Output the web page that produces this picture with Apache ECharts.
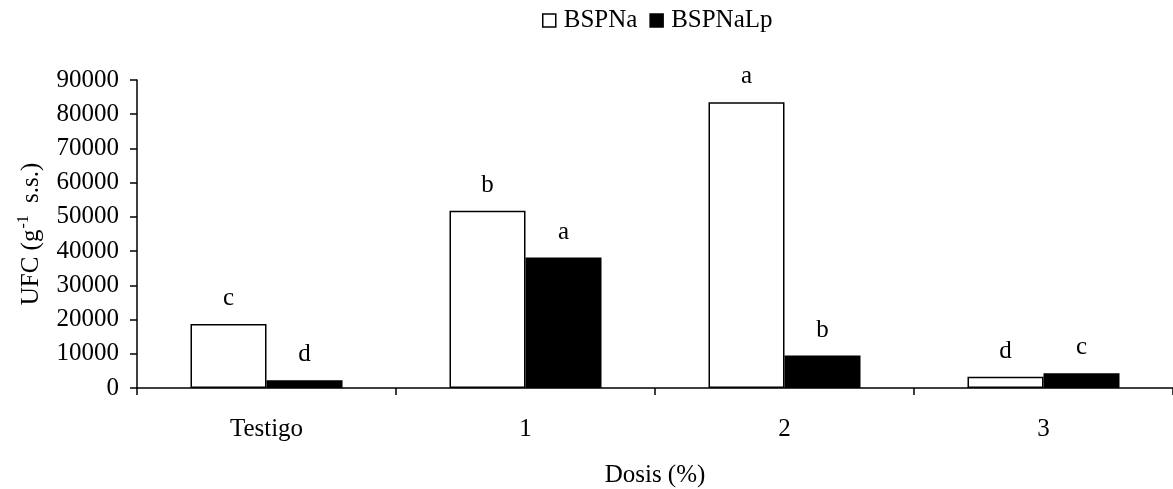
<!DOCTYPE html>
<html>
<head>
<meta charset="utf-8">
<script src="https://cdn.jsdelivr.net/npm/echarts@6/dist/echarts.min.js"></script>
<style>
html,body{margin:0;padding:0;background:#fff;}
#chart{width:1173px;height:489px;}
</style>
</head>
<body>
<div id="chart"></div>
<script>
var categories = ['Testigo', '1', '2', '3'];
var seriesNames = ['BSPNa', 'BSPNaLp'];
var bspna = [18700, 51800, 83500, 3300];
var bspnaLp = [2300, 38100, 9500, 4300];
var lettersBspna = ['c', 'b', 'a', 'd'];
var lettersBspnaLp = ['d', 'a', 'b', 'c'];
var yTicks = { min: 0, max: 90000, interval: 10000 };

var FONT = '"Liberation Serif", "Times New Roman", serif';
var FS = 25;

var chart = echarts.init(document.getElementById('chart'), null, { renderer: 'canvas' });

function makeSeries(name, values, letters, fill) {
  return {
    name: name,
    type: 'bar',
    data: values,
    barWidth: 76,
    barGap: '0%',
    itemStyle: { color: fill, borderColor: '#000', borderWidth: 1.5 },
    emphasis: { disabled: true },
    label: {
      show: true,
      position: 'top',
      distance: 13,
      fontFamily: FONT,
      fontSize: FS,
      color: '#000',
      formatter: function (p) { return letters[p.dataIndex]; }
    }
  };
}

chart.setOption({
  animation: false,
  backgroundColor: '#fff',
  textStyle: { fontFamily: FONT, color: '#000' },
  legend: {
    left: 537,
    top: 3,
    itemWidth: 13,
    itemHeight: 13,
    itemGap: 12,
    icon: 'rect',
    textStyle: { fontFamily: FONT, fontSize: FS, color: '#000', padding: [0, 0, 0, 3] },
    data: [
      { name: seriesNames[0], itemStyle: { color: '#fff', borderColor: '#000', borderWidth: 1.5 } },
      { name: seriesNames[1], itemStyle: { color: '#000', borderColor: '#000', borderWidth: 1.5 } }
    ]
  },
  grid: { left: 137, right: 0, top: 80, bottom: 101, containLabel: false, outerBoundsMode: 'none' },
  xAxis: {
    type: 'category',
    data: categories,
    name: 'Dosis (%)',
    nameLocation: 'middle',
    nameGap: 75,
    nameTextStyle: { fontFamily: FONT, fontSize: FS, color: '#000' },
    axisLine: { lineStyle: { color: '#000', width: 1.5 } },
    axisTick: { show: true, length: 7, inside: false, lineStyle: { color: '#000', width: 1.5 } },
    axisLabel: { margin: 29, fontFamily: FONT, fontSize: FS, color: '#000' },
    splitLine: { show: false }
  },
  yAxis: {
    type: 'value',
    min: yTicks.min,
    max: yTicks.max,
    interval: yTicks.interval,
    name: 'UFC (g{sup|-1} s.s.)',
    nameLocation: 'middle',
    nameGap: 91,
    nameRotate: 90,
    nameTextStyle: {
      fontFamily: FONT, fontSize: FS, color: '#000',
      rich: { sup: { fontFamily: FONT, fontSize: 16, color: '#000', verticalAlign: 'top', padding: [0, 6, 14, 1] } }
    },
    axisLine: { show: true, lineStyle: { color: '#000', width: 1.5 } },
    axisTick: { show: true, length: 7, inside: false, lineStyle: { color: '#000', width: 1.5 } },
    axisLabel: {
      margin: 18, fontFamily: FONT, fontSize: FS, color: '#000',
      formatter: function (v) { return String(v); }
    },
    splitLine: { show: false }
  },
  series: [
    makeSeries(seriesNames[0], bspna, lettersBspna, '#fff'),
    makeSeries(seriesNames[1], bspnaLp, lettersBspnaLp, '#000')
  ]
});
</script>
</body>
</html>
